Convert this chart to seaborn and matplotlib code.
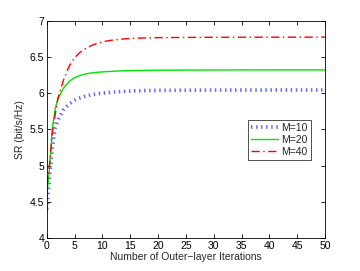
import matplotlib
matplotlib.use("Agg")
import matplotlib.pyplot as plt
import seaborn as sns
import pandas as pd

sns.set_theme(style="white")
plt.rcParams['font.family'] = ['Liberation Sans', 'DejaVu Sans']

x_m10 = [0, 0.5, 1, 1.5, 2, 3, 4, 5, 6, 7, 8, 9, 10, 12, 14, 16, 20, 30, 40, 50]
y_m10 = [4.40, 4.85, 5.25, 5.52, 5.63, 5.77, 5.85, 5.9, 5.935, 5.96, 5.978, 5.99, 6.0, 6.015, 6.025, 6.032, 6.038, 6.042, 6.043, 6.044]

x_m20 = [0, 0.5, 1, 1.5, 2, 3, 4, 5, 6, 7, 8, 9, 10, 12, 14, 16, 20, 30, 40, 50]
y_m20 = [4.57, 4.98, 5.52, 5.78, 5.92, 6.07, 6.16, 6.215, 6.245, 6.265, 6.278, 6.287, 6.293, 6.302, 6.308, 6.312, 6.316, 6.319, 6.32, 6.32]

x_m40 = [0, 0.5, 1, 1.5, 2, 3, 4, 5, 6, 7, 8, 9, 10, 11, 12, 13, 14, 15, 17, 20, 25, 30, 40, 50]
y_m40 = [4.73, 5.03, 5.45, 5.7, 5.93, 6.18, 6.37, 6.49, 6.565, 6.615, 6.655, 6.685, 6.707, 6.722, 6.733, 6.741, 6.748, 6.753, 6.76, 6.765, 6.768, 6.77, 6.771, 6.772]

labels = ["M=10", "M=20", "M=40"]

df = pd.concat([
    pd.DataFrame({"x": x_m10, "y": y_m10, "M": labels[0]}),
    pd.DataFrame({"x": x_m20, "y": y_m20, "M": labels[1]}),
    pd.DataFrame({"x": x_m40, "y": y_m40, "M": labels[2]}),
])

fig = plt.figure(figsize=(3.6, 2.71), dpi=100)
ax = fig.add_axes([0.13, 0.121, 0.773, 0.803])

palette = {"M=10": "#3030ff", "M=20": "#00e600", "M=40": "#ff0000"}
sns.lineplot(data=df, x="x", y="y", hue="M", palette=palette, ax=ax, legend=False, sort=True)

lines = ax.get_lines()
lines[0].set_linestyle((0, (0.4, 1.0)))
lines[0].set_linewidth(2.6)
lines[0].set_alpha(0.75)
lines[1].set_linestyle('-')
lines[1].set_linewidth(1.0)
lines[2].set_linestyle((0, (6, 2.5, 1, 2.5)))
lines[2].set_linewidth(1.0)

ax.set_xlim(0, 50)
ax.set_ylim(4, 7)
ax.set_xticks(range(0, 51, 5))
ax.set_yticks([4, 4.5, 5, 5.5, 6, 6.5, 7])
ax.set_yticklabels(["4", "4.5", "5", "5.5", "6", "6.5", "7"])
ax.tick_params(direction='in', length=3, width=0.6, labelsize=7.5, top=True, right=True,
               bottom=True, left=True, pad=2, colors='black')
for s in ax.spines.values():
    s.set_color('black')
    s.set_linewidth(0.6)
ax.set_xlabel("Number of Outer\u2212layer Iterations", fontsize=7.5, labelpad=1)
ax.set_ylabel("SR (bit/s/Hz)", fontsize=7.5, labelpad=3)

leg = ax.legend(lines, labels, loc='upper left', bbox_to_anchor=(0.722, 0.545),
                fontsize=7.5, frameon=True, fancybox=False, edgecolor='black',
                borderpad=0.3, handlelength=2.6, handletextpad=0.3, labelspacing=0.2,
                borderaxespad=0)
leg.get_frame().set_linewidth(0.6)

fig.savefig("out.png", dpi=100)
